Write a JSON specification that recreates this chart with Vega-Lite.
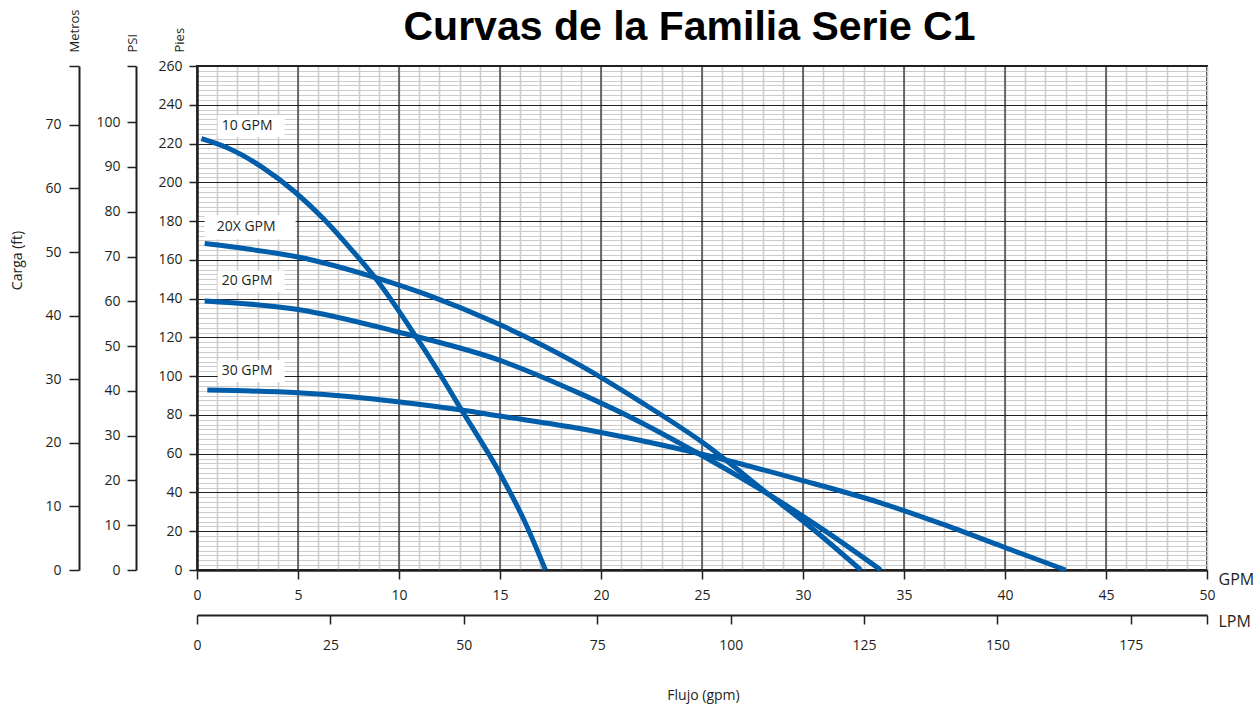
{
  "$schema": "https://vega.github.io/schema/vega-lite/v6.json",
  "width": 1010,
  "height": 504,
  "autosize": {"type": "none"},
  "padding": {"left": 197, "top": 66, "right": 53, "bottom": 136},
  "background": "white",
  "config": {
    "view": {"stroke": "#231f20", "strokeWidth": 2},
    "font": "Open Sans",
    "axis": {
      "labelFont": "Open Sans", "labelFontSize": 14, "labelColor": "#231f20",
      "titleFont": "Open Sans", "titleFontWeight": "normal", "titleColor": "#231f20",
      "domainColor": "#231f20", "tickColor": "#231f20", "tickWidth": 1.5, "domainWidth": 2,
      "labelFlush": false, "labelOverlap": false, "labelBound": false, "grid": false
    }
  },
  "datasets": {
    "ejes": [
      {"gpm": 0, "pies": 0, "metros": 0, "psi": 0, "lpm": 0},
      {"gpm": 50, "pies": 260, "metros": 79.248, "psi": 112.554, "lpm": 189.271}
    ],
    "verticales": [
      {"gpm": 5}, {"gpm": 10}, {"gpm": 15}, {"gpm": 20}, {"gpm": 25},
      {"gpm": 30}, {"gpm": 35}, {"gpm": 40}, {"gpm": 45}
    ],
    "etiquetas": [
      {"curva": "10 GPM", "gpm": 2.68, "pies": 229.0},
      {"curva": "20X GPM", "gpm": 2.63, "pies": 176.8},
      {"curva": "20 GPM", "gpm": 2.68, "pies": 149.0},
      {"curva": "30 GPM", "gpm": 2.68, "pies": 102.6}
    ],
    "curvas": [
      {"curva": "10 GPM", "gpm": 0.22, "pies": 222.5},
      {"curva": "10 GPM", "gpm": 1.5, "pies": 217.8},
      {"curva": "10 GPM", "gpm": 3.2, "pies": 208.0},
      {"curva": "10 GPM", "gpm": 4.85, "pies": 195.0},
      {"curva": "10 GPM", "gpm": 6.25, "pies": 181.3},
      {"curva": "10 GPM", "gpm": 7.6, "pies": 165.8},
      {"curva": "10 GPM", "gpm": 8.8, "pies": 151.0},
      {"curva": "10 GPM", "gpm": 10.8, "pies": 121.0},
      {"curva": "10 GPM", "gpm": 12.0, "pies": 101.5},
      {"curva": "10 GPM", "gpm": 13.1, "pies": 82.5},
      {"curva": "10 GPM", "gpm": 15.0, "pies": 49.8},
      {"curva": "10 GPM", "gpm": 16.2, "pies": 25.5},
      {"curva": "10 GPM", "gpm": 17.25, "pies": 0},
      {"curva": "20X GPM", "gpm": 0.38, "pies": 168.4},
      {"curva": "20X GPM", "gpm": 2.5, "pies": 165.6},
      {"curva": "20X GPM", "gpm": 5.0, "pies": 161.5},
      {"curva": "20X GPM", "gpm": 8.8, "pies": 151.0},
      {"curva": "20X GPM", "gpm": 11.44, "pies": 141.8},
      {"curva": "20X GPM", "gpm": 14.9, "pies": 127.0},
      {"curva": "20X GPM", "gpm": 18.95, "pies": 105.7},
      {"curva": "20X GPM", "gpm": 22.0, "pies": 86.5},
      {"curva": "20X GPM", "gpm": 25.0, "pies": 66.0},
      {"curva": "20X GPM", "gpm": 28.3, "pies": 39.0},
      {"curva": "20X GPM", "gpm": 30.5, "pies": 21.0},
      {"curva": "20X GPM", "gpm": 32.86, "pies": 0},
      {"curva": "20 GPM", "gpm": 0.38, "pies": 138.8},
      {"curva": "20 GPM", "gpm": 5.0, "pies": 134.4},
      {"curva": "20 GPM", "gpm": 9.95, "pies": 122.8},
      {"curva": "20 GPM", "gpm": 14.9, "pies": 108.5},
      {"curva": "20 GPM", "gpm": 18.95, "pies": 91.1},
      {"curva": "20 GPM", "gpm": 22.0, "pies": 76.0},
      {"curva": "20 GPM", "gpm": 24.8, "pies": 60.2},
      {"curva": "20 GPM", "gpm": 28.3, "pies": 39.0},
      {"curva": "20 GPM", "gpm": 31.0, "pies": 20.8},
      {"curva": "20 GPM", "gpm": 33.85, "pies": 0},
      {"curva": "30 GPM", "gpm": 0.51, "pies": 92.8},
      {"curva": "30 GPM", "gpm": 5.0, "pies": 91.4},
      {"curva": "30 GPM", "gpm": 9.95, "pies": 86.8},
      {"curva": "30 GPM", "gpm": 13.1, "pies": 82.5},
      {"curva": "30 GPM", "gpm": 15.0, "pies": 79.4},
      {"curva": "30 GPM", "gpm": 18.95, "pies": 73.0},
      {"curva": "30 GPM", "gpm": 21.5, "pies": 67.8},
      {"curva": "30 GPM", "gpm": 24.8, "pies": 60.2},
      {"curva": "30 GPM", "gpm": 29.9, "pies": 46.4},
      {"curva": "30 GPM", "gpm": 33.8, "pies": 34.8},
      {"curva": "30 GPM", "gpm": 36.8, "pies": 24.0},
      {"curva": "30 GPM", "gpm": 39.9, "pies": 12.0},
      {"curva": "30 GPM", "gpm": 43.0, "pies": 0}
    ]
  },
  "layer": [
    {
      "data": {"name": "ejes"},
      "mark": {"type": "point", "opacity": 0},
      "encoding": {
        "x": {"field": "gpm", "type": "quantitative", "scale": {"domain": [0, 50], "nice": false, "zero": false},
          "axis": {"orient": "bottom", "values": [0,1,2,3,4,5,6,7,8,9,10,11,12,13,14,15,16,17,18,19,20,21,22,23,24,25,26,27,28,29,30,31,32,33,34,35,36,37,38,39,40,41,42,43,44,45,46,47,48,49,50],
            "grid": true, "gridColor": "#cccccc", "gridWidth": 1.6, "gridOpacity": 1, "domain": false, "ticks": false, "labels": false, "title": null}},
        "y": {"field": "pies", "type": "quantitative", "scale": {"domain": [0, 260], "nice": false, "zero": false},
          "axis": {"orient": "left", "values": [0,2.5,5,7.5,10,12.5,15,17.5,20,22.5,25,27.5,30,32.5,35,37.5,40,42.5,45,47.5,50,52.5,55,57.5,60,62.5,65,67.5,70,72.5,75,77.5,80,82.5,85,87.5,90,92.5,95,97.5,100,102.5,105,107.5,110,112.5,115,117.5,120,122.5,125,127.5,130,132.5,135,137.5,140,142.5,145,147.5,150,152.5,155,157.5,160,162.5,165,167.5,170,172.5,175,177.5,180,182.5,185,187.5,190,192.5,195,197.5,200,202.5,205,207.5,210,212.5,215,217.5,220,222.5,225,227.5,230,232.5,235,237.5,240,242.5,245,247.5,250,252.5,255,257.5,260],
            "grid": true, "gridColor": "#cccccc", "gridWidth": 1.1, "gridOpacity": 1, "domain": false, "ticks": false, "labels": false, "title": null}}
      }
    },
    {
      "data": {"name": "verticales"},
      "mark": {"type": "rule", "color": "#231f20", "strokeWidth": 1.2},
      "encoding": {
        "x": {"field": "gpm", "type": "quantitative", "scale": {"domain": [0, 50], "nice": false, "zero": false},
          "axis": {"orient": "bottom", "values": [0,5,10,15,20,25,30,35,40,45,50], "grid": false,
            "domain": true, "domainWidth": 2.5, "ticks": true, "tickSize": 9, "labelPadding": 9,
            "title": "GPM", "titleFontSize": 16, "titleX": 1021, "titleY": 9, "titleAlign": "left", "titleBaseline": "middle", "titleAngle": 0}}
      }
    },
    {
      "data": {"name": "etiquetas"},
      "mark": {"type": "point", "filled": true, "fill": "white", "color": "white", "opacity": 1, "strokeWidth": 0},
      "encoding": {
        "x": {"field": "gpm", "type": "quantitative", "scale": {"domain": [0, 50], "nice": false, "zero": false}, "axis": null},
        "y": {"field": "pies", "type": "quantitative", "scale": {"domain": [0, 260], "nice": false, "zero": false},
          "axis": {"orient": "left", "values": [0,20,40,60,80,100,120,140,160,180,200,220,240,260],
            "grid": true, "gridColor": "#231f20", "gridWidth": 1.2, "gridOpacity": 1,
            "domain": true, "domainWidth": 2.5, "ticks": true, "tickSize": 8, "labelPadding": 7,
            "title": "Pies", "titleFontSize": 13, "titleAngle": 270, "titleAlign": "left", "titleBaseline": "middle", "titleX": -18, "titleY": -14}},
        "shape": {"condition": {"test": "datum.curva === '20X GPM'", "value": "M-1,-0.264H1V0.264H-1Z"}, "value": "M-1,-0.328H1V0.328H-1Z"},
        "size": {"condition": {"test": "datum.curva === '20X GPM'", "value": 8281}, "value": 4489}
      }
    },
    {
      "data": {"name": "curvas"},
      "mark": {"type": "line", "interpolate": "monotone", "color": "#005da9", "strokeWidth": 5, "strokeCap": "butt"},
      "encoding": {
        "x": {"field": "gpm", "type": "quantitative", "scale": {"domain": [0, 50], "nice": false, "zero": false}, "axis": null},
        "y": {"field": "pies", "type": "quantitative", "scale": {"domain": [0, 260], "nice": false, "zero": false}, "axis": null},
        "detail": {"field": "curva"}
      }
    },
    {
      "data": {"name": "etiquetas"},
      "mark": {"type": "text", "align": "center", "baseline": "middle", "dx": -4, "font": "Open Sans", "fontSize": 14, "color": "#231f20"},
      "encoding": {
        "x": {"field": "gpm", "type": "quantitative", "scale": {"domain": [0, 50], "nice": false, "zero": false}, "axis": null},
        "y": {"field": "pies", "type": "quantitative", "scale": {"domain": [0, 260], "nice": false, "zero": false}, "axis": null},
        "text": {"field": "curva"}
      }
    },
    {
      "data": {"name": "ejes"},
      "mark": {"type": "point", "opacity": 0},
      "encoding": {
        "x": {"field": "lpm", "type": "quantitative", "scale": {"domain": [0, 189.271], "nice": false, "zero": false},
          "axis": {"orient": "bottom", "offset": 45, "values": [0,25,50,75,100,125,150,175,189.271],
            "labelExpr": "datum.value > 180 ? '' : datum.label",
            "grid": false, "domain": true, "domainWidth": 2, "ticks": true, "tickSize": 9, "labelPadding": 14,
            "title": "LPM", "titleFontSize": 16, "titleX": 1021, "titleY": 6, "titleAlign": "left", "titleBaseline": "middle", "titleAngle": 0}},
        "y": {"field": "metros", "type": "quantitative", "scale": {"domain": [0, 79.248], "nice": false, "zero": false},
          "axis": {"orient": "left", "offset": 118, "values": [0,10,20,30,40,50,60,70,79.248],
            "labelExpr": "datum.value > 75 ? '' : datum.label",
            "grid": false, "domain": true, "domainWidth": 2, "ticks": true, "tickSize": 10, "labelPadding": 8,
            "title": "Metros", "titleFontSize": 13, "titleAngle": 270, "titleAlign": "left", "titleBaseline": "middle", "titleX": -5, "titleY": -14}}
      }
    },
    {
      "data": {"name": "ejes"},
      "mark": {"type": "point", "opacity": 0},
      "encoding": {
        "x": {"field": "gpm", "type": "quantitative", "scale": {"domain": [0, 50], "nice": false, "zero": false},
          "axis": {"orient": "bottom", "grid": false, "domain": false, "ticks": false, "labels": false,
            "title": "Flujo (gpm)", "titleFontSize": 14, "titleX": 506, "titleY": 125, "titleAlign": "center", "titleBaseline": "middle", "titleAngle": 0}},
        "y": {"field": "psi", "type": "quantitative", "scale": {"domain": [0, 112.554], "nice": false, "zero": false},
          "axis": {"orient": "left", "offset": 61, "values": [0,10,20,30,40,50,60,70,80,90,100,112.554],
            "labelExpr": "datum.value > 105 ? '' : datum.label",
            "grid": false, "domain": true, "domainWidth": 2, "ticks": true, "tickSize": 9, "labelPadding": 7,
            "title": "PSI", "titleFontSize": 13, "titleAngle": 270, "titleAlign": "left", "titleBaseline": "middle", "titleX": -4, "titleY": -14}}
      }
    },
    {
      "data": {"name": "ejes"},
      "mark": {"type": "point", "opacity": 0},
      "encoding": {
        "x": {"field": "gpm", "type": "quantitative", "scale": {"domain": [0, 50], "nice": false, "zero": false},
          "axis": {"orient": "top", "grid": false, "domain": false, "ticks": false, "labels": false,
            "title": "Curvas de la Familia Serie C1", "titleFont": "Liberation Sans",
            "titleFontSize": 41, "titleFontWeight": "bold", "titleColor": "#000000",
            "titleX": 492, "titleY": -27, "titleAlign": "center", "titleBaseline": "alphabetic", "titleAngle": 0}},
        "y": {"field": "pies", "type": "quantitative", "scale": {"domain": [0, 260], "nice": false, "zero": false},
          "axis": {"orient": "left", "grid": false, "domain": false, "ticks": false, "labels": false,
            "title": "Carga (ft)", "titleFontSize": 14, "titleAngle": 270, "titleAlign": "center", "titleBaseline": "middle", "titleX": -180, "titleY": 194}}
      }
    }
  ],
  "resolve": {
    "scale": {"x": "independent", "y": "independent"},
    "axis": {"x": "independent", "y": "independent"}
  }
}
